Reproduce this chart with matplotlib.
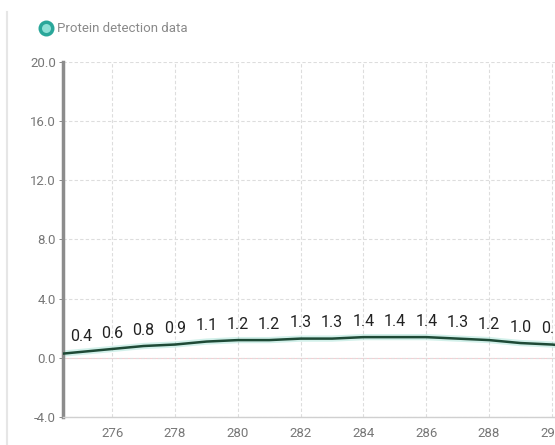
import matplotlib.pyplot as plt
from matplotlib.lines import Line2D

plt.rcParams["font.family"] = ["Roboto", "DejaVu Sans"]

# data
positions = [274, 275, 276, 277, 278, 279, 280, 281, 282, 283, 284, 285, 286, 287, 288, 289, 290, 291]
values = [0.2, 0.4, 0.6, 0.8, 0.9, 1.1, 1.2, 1.2, 1.3, 1.3, 1.4, 1.4, 1.4, 1.3, 1.2, 1.0, 0.9, 0.7]
x_ticks = [276, 278, 280, 282, 284, 286, 288, 290]
y_ticks = [-4.0, 0.0, 4.0, 8.0, 12.0, 16.0, 20.0]
series_name = "Protein detection data"

fig = plt.figure(figsize=(5.55, 4.45), dpi=100)
ax = fig.add_axes([0.1135, 0.0629, 0.8865, 0.7978])

ax.set_xlim(274.43, 290.1)
ax.set_ylim(-4, 20)

ax.grid(True, color="#dddddd", linestyle=(0, (3, 2)), linewidth=0.8)
ax.axhline(0, color="#f6cdd2", linewidth=0.8, zorder=1)

# soft halo under the line, then the line itself
ax.plot(positions, values, color="#7fd6c4", linewidth=4.5, alpha=0.35, zorder=2)
ax.plot(positions, values, color="#1e4a36", linewidth=1.8, zorder=3)

for x, v in zip(positions, values):
    ax.annotate(f"{v:.1f}", (x, v), xytext=(0, 6), textcoords="offset points",
                ha="center", va="bottom", fontsize=11.5, color="#222222",
                annotation_clip=False, clip_on=True)

ax.set_xticks(x_ticks)
ax.set_xticklabels([str(t) for t in x_ticks])
ax.set_yticks(y_ticks)
ax.set_yticklabels([f"{t:.1f}" for t in y_ticks])
ax.tick_params(axis="both", labelsize=9.5, colors="#777777", length=3, width=0.6)
ax.tick_params(axis="x", length=0, pad=7)
ax.tick_params(axis="y", pad=2)

for side in ["top", "right"]:
    ax.spines[side].set_visible(False)
ax.spines["left"].set_color("#8c8c8c")
ax.spines["left"].set_linewidth(2.5)
ax.spines["bottom"].set_color("#d0d0d0")
ax.spines["bottom"].set_linewidth(1)

# legend entry at the top left
fig.lines.append(Line2D([46 / 555], [1 - 28 / 445], marker="o", markersize=9,
                        markerfacecolor="#8ee0d6", markeredgecolor="#2aa79a",
                        markeredgewidth=2.5, transform=fig.transFigure))
fig.text(57 / 555, 1 - 28 / 445, series_name, fontsize=9.5, color="#8a8a8a",
         va="center", ha="left")

# faint panel border on the left
fig.lines.append(Line2D([7 / 555, 7 / 555], [0, 1 - 12 / 445], color="#e6e6e6",
                        linewidth=1.5, transform=fig.transFigure))

fig.savefig("out.png", dpi=100)
